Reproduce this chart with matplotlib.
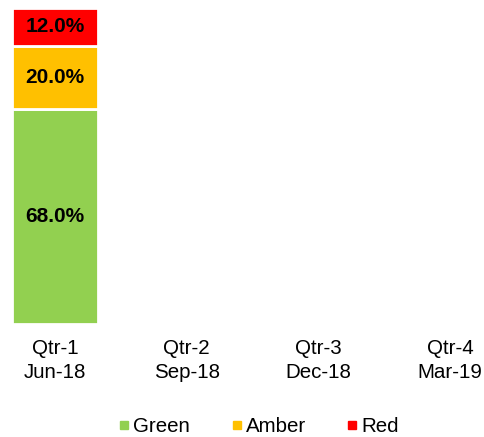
import matplotlib.pyplot as plt
from matplotlib.lines import Line2D

plt.rcParams['font.family'] = ['Liberation Sans', 'DejaVu Sans']

categories = ["Qtr-1\nJun-18", "Qtr-2\nSep-18", "Qtr-3\nDec-18", "Qtr-4\nMar-19"]
green = [68.0, 0, 0, 0]
amber = [20.0, 0, 0, 0]
red = [12.0, 0, 0, 0]

series = [("Green", green, "#92D050"), ("Amber", amber, "#FFC000"), ("Red", red, "#FF0000")]

fig = plt.figure(figsize=(4.84, 4.37), dpi=100)
ax = fig.add_axes([0, 113 / 437, 1, 316 / 437])

x = range(len(categories))
bottom = [0] * len(categories)
for name, vals, col in series:
    bars = ax.bar(x, vals, width=0.653, bottom=bottom, color=col,
                  edgecolor="white", linewidth=2)
    for b, v, b0 in zip(bars, vals, bottom):
        if v > 0:
            ax.text(b.get_x() + b.get_width() / 2, b0 + v / 2, f"{v:.1f}%",
                    ha="center", va="center", fontsize=15, fontweight="bold",
                    color="black")
    bottom = [a + b for a, b in zip(bottom, vals)]

ax.set_xlim(-0.418, 3.257)
ax.set_ylim(0, 100)
ax.set_xticks(list(x))
ax.set_xticklabels(categories, fontsize=14.8, linespacing=1.3)
ax.tick_params(axis="x", length=0, pad=11)
ax.set_yticks([])
for s in ax.spines.values():
    s.set_visible(False)

handles = [Line2D([], [], marker="s", linestyle="none", markersize=6,
                  color=col, label=name) for name, _, col in series]
fig.legend(handles=handles, loc="center", bbox_to_anchor=(259 / 484, 1 - 427 / 437),
           ncol=3, frameon=False, fontsize=14.8, handlelength=0.5,
           handletextpad=0.2, columnspacing=2.0, borderpad=0)

fig.savefig("out.png", dpi=100)
